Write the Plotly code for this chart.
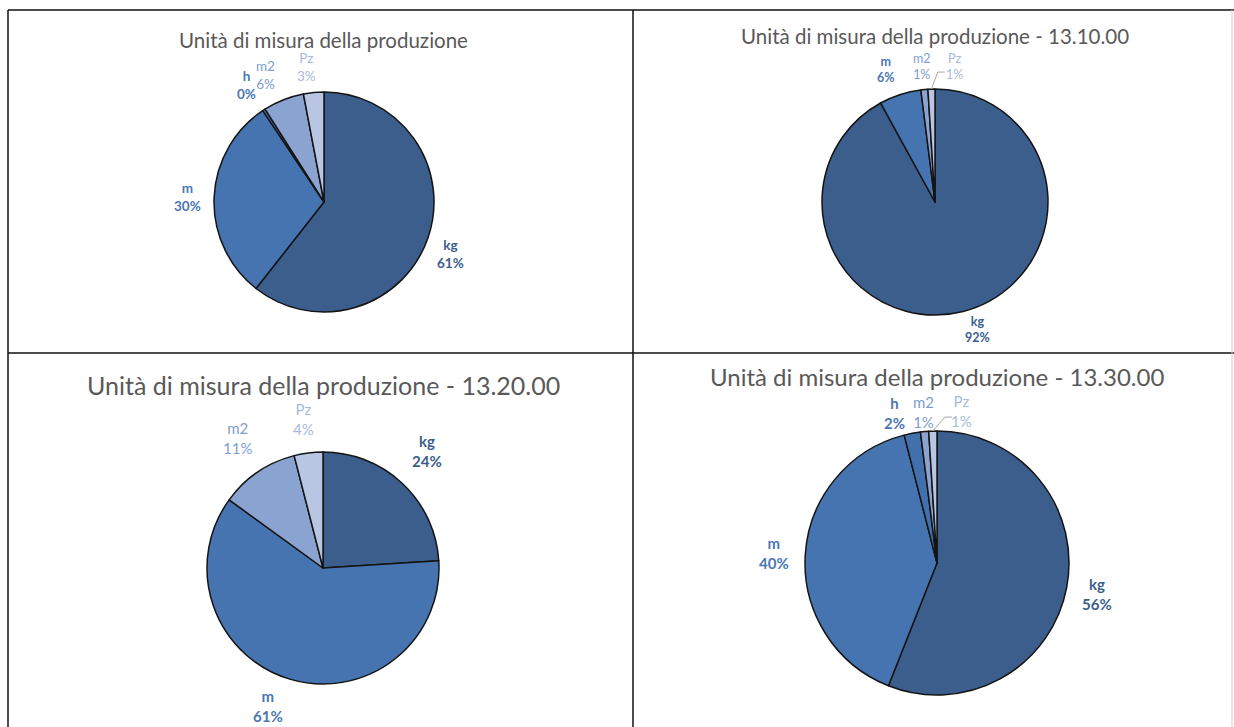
import math
import plotly.graph_objects as go

W, H = 1234, 727

titles = [
    "Unità di misura della produzione",
    "Unità di misura della produzione - 13.10.00",
    "Unità di misura della produzione - 13.20.00",
    "Unità di misura della produzione - 13.30.00",
]
labels_1 = ["kg", "m", "h", "m2", "Pz"]
values_1 = [60.6, 30, 0.4, 6, 3]
labels_2 = ["kg", "m", "m2", "Pz"]
values_2 = [92, 6, 1, 1]
labels_3 = ["kg", "m", "m2", "Pz"]
values_3 = [24, 61, 11, 4]
labels_4 = ["kg", "m", "h", "m2", "Pz"]
values_4 = [56, 40, 2, 1, 1]

slice_colors = {"kg": "#3b5e8c", "m": "#4674b0", "h": "#4270ac", "m2": "#8ba3d0", "Pz": "#b8c6e3"}
label_colors = {"kg": "#3b5e8c", "m": "#4a77b4", "h": "#4a77b4", "m2": "#809dcf", "Pz": "#a8badc"}
bold = {"kg": True, "m": True, "h": True, "m2": False, "Pz": False}

# per chart: center x, center y, radius, label gap, label font, title font, title y
geom = [
    dict(cx=324, cy=202, r=110, gap=27, fs=13.5, tfs=20.5, ty=40),
    dict(cx=935, cy=202, r=113, gap=23, fs=12.5, tfs=20.5, ty=36),
    dict(cx=323, cy=568, r=116, gap=36, fs=15, tfs=25, ty=385),
    dict(cx=937, cy=563, r=132, gap=31, fs=15, tfs=24, ty=376),
]
# label nudges (pixels) for crowded / edge labels, and which get a leader line
nudges = [
    {"kg": (-3, 7), "m2": (-8, 0), "Pz": (-5, 1), "h": (-3, -2)},
    {"kg": (9, -4), "m": (-7, -3), "Pz": (24, 0)},
    {"kg": (0, -6), "m": (-13, -8), "m2": (0, -4), "Pz": (0, 2)},
    {"h": (-12, 10), "m2": (2, 11), "Pz": (30, 11)},
]
leaders = [set(), {"Pz"}, set(), {"Pz"}]

fig = go.Figure()
datasets = [(labels_1, values_1), (labels_2, values_2), (labels_3, values_3), (labels_4, values_4)]
for k, ((labs, vals), g, title) in enumerate(zip(datasets, geom, titles)):
    cx, cy, r = g["cx"], g["cy"], g["r"]
    fig.add_trace(go.Pie(
        labels=labs, values=vals, sort=False, direction="clockwise", rotation=0,
        marker=dict(colors=[slice_colors[l] for l in labs], line=dict(color="#141414", width=1.5)),
        textinfo="none",
        domain=dict(x=[(cx - r) / W, (cx + r) / W], y=[1 - (cy + r) / H, 1 - (cy - r) / H]),
        showlegend=False, hoverinfo="label+percent",
    ))
    fig.add_annotation(x=cx / W, y=1 - g["ty"] / H, xref="paper", yref="paper", text=title,
                       showarrow=False, font=dict(family="Lato", size=g["tfs"], color="#595959"),
                       xanchor="center", yanchor="middle")
    total = sum(vals)
    cum = 0.0
    for l, v in zip(labs, vals):
        mid = (cum + v / 2) / total * 2 * math.pi
        cum += v
        dx, dy = math.sin(mid), -math.cos(mid)
        R = r + g["gap"]
        nx, ny = nudges[k].get(l, (0, 0))
        px, py = cx + R * dx + nx, cy + R * dy + ny
        pct = f"{round(v / total * 100)}%"
        txt = f"<b>{l}</b><br><b>{pct}</b>" if bold[l] else f"{l}<br>{pct}"
        fig.add_annotation(x=px / W, y=1 - py / H, xref="paper", yref="paper", text=txt,
                           showarrow=False, align="center", xanchor="center", yanchor="middle",
                           font=dict(family="Lato", size=g["fs"], color=label_colors[l]))
        if l in leaders[k]:
            ex, ey = cx + r * dx, cy + r * dy
            sx, sy = px - 10, py + 6
            fig.add_shape(type="path", xref="paper", yref="paper",
                          path=f"M {sx / W},{1 - sy / H} L {(sx - 7) / W},{1 - sy / H} L {ex / W},{1 - ey / H}",
                          line=dict(color="#a6a6a6", width=1))

line = dict(color="#111111", width=1.5)
fig.add_shape(type="line", xref="paper", yref="paper", x0=8 / W, x1=1, y0=1 - 10 / H, y1=1 - 10 / H, line=line)
fig.add_shape(type="line", xref="paper", yref="paper", x0=8 / W, x1=1, y0=1 - 353 / H, y1=1 - 353 / H, line=line)
fig.add_shape(type="line", xref="paper", yref="paper", x0=8 / W, x1=8 / W, y0=0, y1=1 - 10 / H, line=line)
fig.add_shape(type="line", xref="paper", yref="paper", x0=633 / W, x1=633 / W, y0=0, y1=1 - 10 / H, line=line)
fig.add_shape(type="line", xref="paper", yref="paper", x0=1232 / W, x1=1232 / W, y0=0, y1=1 - 10 / H,
              line=dict(color="#cccccc", width=1))

fig.update_layout(width=W, height=H, margin=dict(l=0, r=0, t=0, b=0),
                  paper_bgcolor="white", plot_bgcolor="white")
fig.write_html("out.html")
